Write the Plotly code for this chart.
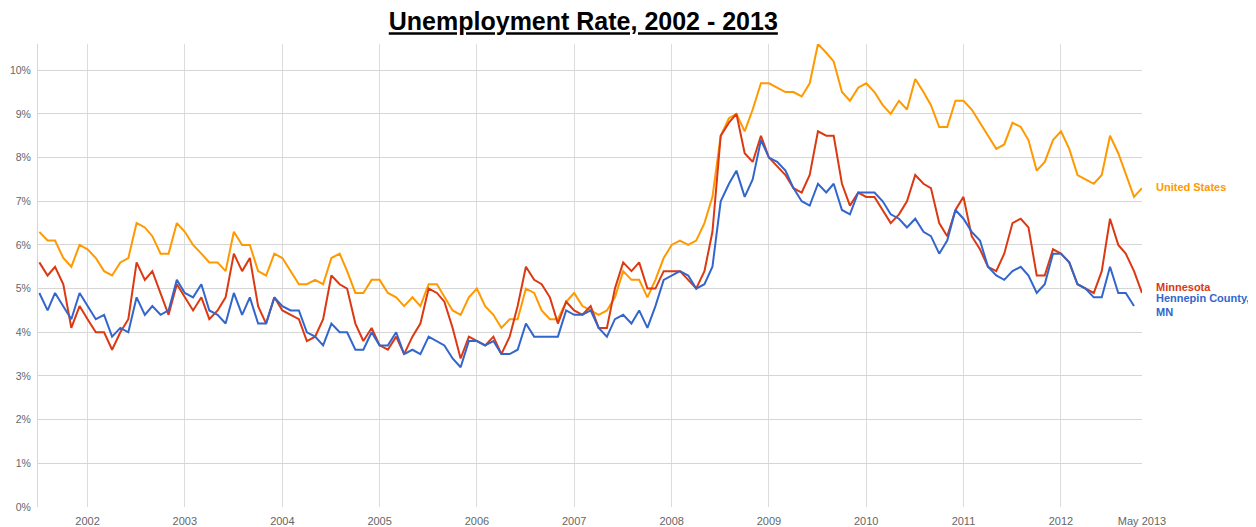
import pandas as pd
import plotly.graph_objects as go

# monthly, Jan 2002 .. May 2013 (not seasonally adjusted)
start_month = "2002-01-01"
end_month = "2013-05-01"

united_states = [
    6.3, 6.1, 6.1, 5.7, 5.5, 6.0, 5.9, 5.7, 5.4, 5.3, 5.6, 5.7,
    6.5, 6.4, 6.2, 5.8, 5.8, 6.5, 6.3, 6.0, 5.8, 5.6, 5.6, 5.4,
    6.3, 6.0, 6.0, 5.4, 5.3, 5.8, 5.7, 5.4, 5.1, 5.1, 5.2, 5.1,
    5.7, 5.8, 5.4, 4.9, 4.9, 5.2, 5.2, 4.9, 4.8, 4.6, 4.8, 4.6,
    5.1, 5.1, 4.8, 4.5, 4.4, 4.8, 5.0, 4.6, 4.4, 4.1, 4.3, 4.3,
    5.0, 4.9, 4.5, 4.3, 4.3, 4.7, 4.9, 4.6, 4.5, 4.4, 4.5, 4.8,
    5.4, 5.2, 5.2, 4.8, 5.2, 5.7, 6.0, 6.1, 6.0, 6.1, 6.5, 7.1,
    8.5, 8.9, 9.0, 8.6, 9.1, 9.7, 9.7, 9.6, 9.5, 9.5, 9.4, 9.7,
    10.6, 10.4, 10.2, 9.5, 9.3, 9.6, 9.7, 9.5, 9.2, 9.0, 9.3, 9.1,
    9.8, 9.5, 9.2, 8.7, 8.7, 9.3, 9.3, 9.1, 8.8, 8.5, 8.2, 8.3,
    8.8, 8.7, 8.4, 7.7, 7.9, 8.4, 8.6, 8.2, 7.6, 7.5, 7.4, 7.6,
    8.5, 8.1, 7.6, 7.1, 7.3,
]

minnesota = [
    5.6, 5.3, 5.5, 5.1, 4.1, 4.6, 4.3, 4.0, 4.0, 3.6, 4.0, 4.3,
    5.6, 5.2, 5.4, 4.9, 4.4, 5.1, 4.8, 4.5, 4.8, 4.3, 4.5, 4.8,
    5.8, 5.4, 5.7, 4.6, 4.2, 4.8, 4.5, 4.4, 4.3, 3.8, 3.9, 4.3,
    5.3, 5.1, 5.0, 4.2, 3.8, 4.1, 3.7, 3.6, 3.9, 3.5, 3.9, 4.2,
    5.0, 4.9, 4.7, 4.1, 3.4, 3.9, 3.8, 3.7, 3.9, 3.5, 3.9, 4.6,
    5.5, 5.2, 5.1, 4.8, 4.2, 4.7, 4.5, 4.4, 4.6, 4.1, 4.1, 5.0,
    5.6, 5.4, 5.6, 5.0, 5.0, 5.4, 5.4, 5.4, 5.2, 5.0, 5.4, 6.3,
    8.5, 8.8, 9.0, 8.1, 7.9, 8.5, 8.0, 7.8, 7.6, 7.3, 7.2, 7.6,
    8.6, 8.5, 8.5, 7.4, 6.9, 7.2, 7.1, 7.1, 6.8, 6.5, 6.7, 7.0,
    7.6, 7.4, 7.3, 6.5, 6.2, 6.8, 7.1, 6.2, 5.9, 5.5, 5.4, 5.8,
    6.5, 6.6, 6.4, 5.3, 5.3, 5.9, 5.8, 5.6, 5.1, 5.0, 4.9, 5.4,
    6.6, 6.0, 5.8, 5.4, 4.9,
]

hennepin = [
    4.9, 4.5, 4.9, 4.6, 4.3, 4.9, 4.6, 4.3, 4.4, 3.9, 4.1, 4.0,
    4.8, 4.4, 4.6, 4.4, 4.5, 5.2, 4.9, 4.8, 5.1, 4.5, 4.4, 4.2,
    4.9, 4.4, 4.8, 4.2, 4.2, 4.8, 4.6, 4.5, 4.5, 4.0, 3.9, 3.7,
    4.2, 4.0, 4.0, 3.6, 3.6, 4.0, 3.7, 3.7, 4.0, 3.5, 3.6, 3.5,
    3.9, 3.8, 3.7, 3.4, 3.2, 3.8, 3.8, 3.7, 3.8, 3.5, 3.5, 3.6,
    4.2, 3.9, 3.9, 3.9, 3.9, 4.5, 4.4, 4.4, 4.5, 4.1, 3.9, 4.3,
    4.4, 4.2, 4.5, 4.1, 4.6, 5.2, 5.3, 5.4, 5.3, 5.0, 5.1, 5.5,
    7.0, 7.4, 7.7, 7.1, 7.5, 8.4, 8.0, 7.9, 7.7, 7.3, 7.0, 6.9,
    7.4, 7.2, 7.4, 6.8, 6.7, 7.2, 7.2, 7.2, 7.0, 6.7, 6.6, 6.4,
    6.6, 6.3, 6.2, 5.8, 6.1, 6.8, 6.6, 6.3, 6.1, 5.5, 5.3, 5.2,
    5.4, 5.5, 5.3, 4.9, 5.1, 5.8, 5.8, 5.6, 5.1, 5.0, 4.8, 4.8,
    5.5, 4.9, 4.9, 4.6, None,
]

year_labels = ["2002", "2003", "2004", "2005", "2006", "2007",
               "2008", "2009", "2010", "2011", "2012"]
end_label = "May 2013"
pct_labels = ["0%", "1%", "2%", "3%", "4%", "5%", "6%", "7%", "8%", "9%", "10%"]

series = [
    ("United States", united_states, "#FF9900"),
    ("Minnesota", minnesota, "#DC3912"),
    ("Hennepin County,<br>MN", hennepin, "#3366CC"),
]

# where the end labels sit (in axis units); Hennepin is placed below Minnesota
label_pos = {"United States": 7.32, "Minnesota": 5.03, "Hennepin County,<br>MN": 4.62}

months = pd.date_range(start_month, end_month, freq="MS")

fig = go.Figure()
for name, values, color in series:
    fig.add_trace(go.Scatter(
        x=months, y=values, mode="lines", name=name,
        line=dict(color=color, width=2), connectgaps=False,
    ))
    fig.add_annotation(
        x=1, xref="paper", y=label_pos[name], yref="y",
        xanchor="left", yanchor="middle", xshift=12,
        text="<b>%s</b>" % name, showarrow=False, align="left",
        font=dict(family="Liberation Sans, Arial", size=11, color=color),
    )

tickvals = [pd.Timestamp("%s-07-01" % y) for y in year_labels] + [pd.Timestamp(end_month)]
ticktext = year_labels + [end_label]

# the page body has an 8px margin, so the figure is 8px smaller than the window
fig.update_layout(
    width=1248, height=519,
    margin=dict(l=30, r=114, t=36, b=20),
    paper_bgcolor="white", plot_bgcolor="white",
    showlegend=False,
    title=dict(
        text="<b><u>Unemployment Rate, 2002 - 2013</u></b>",
        x=0.461, xanchor="center", y=0.974, yanchor="middle",
        font=dict(family="Liberation Sans, Arial", size=25, color="black"),
    ),
)
fig.update_xaxes(
    type="date", range=["2001-12-27", end_month], automargin=False,
    tickvals=tickvals, ticktext=ticktext,
    showgrid=True, gridcolor="#dcdcdc", gridwidth=1,
    zeroline=False, showline=False, ticks="",
    ticklabelstandoff=6,
    tickfont=dict(family="Liberation Sans, Arial", size=11, color="#666666"),
)
fig.update_yaxes(
    range=[0, 10.6], automargin=False,
    tickvals=list(range(0, 11)), ticktext=pct_labels,
    showgrid=True, gridcolor="#d6d6d6", gridwidth=1,
    zeroline=False, showline=True, linecolor="#d6d6d6", linewidth=1,
    ticks="", ticklabelstandoff=4,
    tickfont=dict(family="Liberation Sans, Arial", size=10.5, color="#666666"),
)

fig.write_html("out.html")
